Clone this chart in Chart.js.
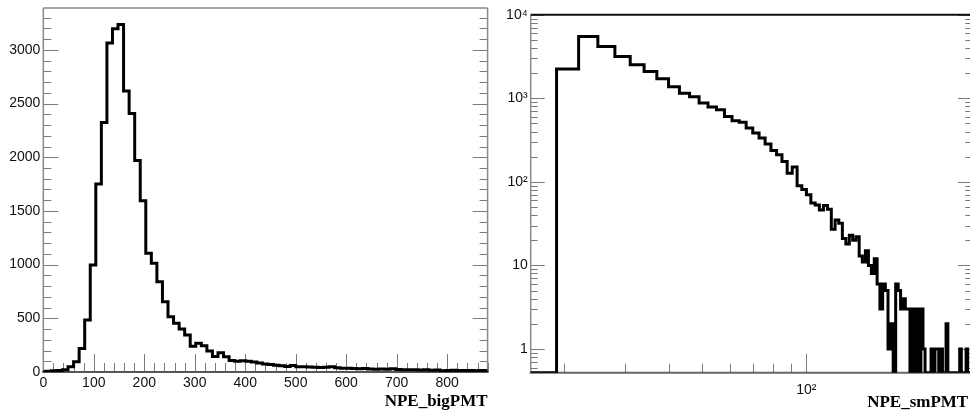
<!DOCTYPE html>
<html><head><meta charset="utf-8">
<script src="https://cdn.jsdelivr.net/npm/chart.js@4/dist/chart.umd.min.js"></script>
<style>
html,body{margin:0;padding:0;background:#fff;overflow:hidden;width:970px;height:417px;position:relative;}
.panel{position:absolute;top:-20px;}
#w1{left:0;width:490px;height:437px;}
#w2{left:490px;width:490px;height:437px;}
</style></head><body>
<div id="w1" class="panel"><canvas id="c1" width="490" height="437"></canvas></div>
<div id="w2" class="panel"><canvas id="c2" width="490" height="437"></canvas></div>
<script>
// ---------- Left panel: NPE_bigPMT (linear axes) ----------
const bigBinStart = -6;
const bigBinWidth = 11;
const bigCounts = [
  3, 8, 12, 15, 22, 50, 96, 220, 485, 997,
  1752, 2323, 3063, 3196, 3236, 2618, 2407, 1969, 1596, 1106,
  1013, 841, 655, 515, 453, 400, 345, 240, 267, 245,
  195, 145, 180, 143, 106, 100, 104, 100, 92, 84,
  74, 70, 64, 58, 52, 60, 50, 48, 46, 45,
  42, 44, 48, 40, 36, 34, 32, 30, 33, 28,
  26, 27, 25, 30, 24, 22, 20, 22, 18, 20,
  16, 18, 12, 15, 17, 14, 13, 15, 12, 14, 12
];
const bigXRange = [0, 880];
const bigYRange = [0, 3390];
const bigXTickValues = [0, 100, 200, 300, 400, 500, 600, 700, 800];
const bigXTickLabels = ["0", "100", "200", "300", "400", "500", "600", "700", "800"];
const bigYTickValues = [0, 500, 1000, 1500, 2000, 2500, 3000];
const bigYTickLabels = ["0", "500", "1000", "1500", "2000", "2500", "3000"];
const bigTitle = "NPE_bigPMT";

// ---------- Right panel: NPE_smPMT (log axes) ----------
const smBinStart = 16;
const smBinWidth = 3;
const smCounts = [
  0, 2240, 5500, 4170, 3170, 2520, 2090, 1710, 1370, 1150,
  1040, 875, 785, 728, 605, 540, 518, 440, 383, 334,
  283, 237, 211, 175, 127, 150, 90, 81, 70, 56,
  53, 46, 52, 47, 27, 35, 32, 21, 18, 23,
  20, 22, 13, 11, 15, 10, 8, 12, 6, 3,
  6, 5, 1, 2, 0, 6, 5, 3, 4, 3,
  3, 0, 3, 0, 3, 0, 3, 1, 0, 0,
  0, 1, 0, 1, 1, 0, 1, 0, 0, 2,
  0, 0, 0, 0, 0, 0, 0, 1, 0, 0,
  0, 1, 0, 0, 0
];
const smXRange = [16, 301];
const smYRange = [0.52, 10000];
const smXTickValues = [100];
const smXTickLabels = ["10\u00B2"];
const smYTickValues = [1, 10, 100, 1000, 10000];
const smYTickLabels = ["1", "10", "10\u00B2", "10\u00B3", "10\u2074"];
const smTitle = "NPE_smPMT";

// ---------- helpers ----------
function histPoints(start, width, counts, floor) {
  const pts = counts.map((c, i) => ({x: start + i * width, y: (floor !== undefined && c <= 0) ? floor : c}));
  pts.push({x: start + counts.length * width, y: pts[pts.length - 1].y});
  return pts;
}

function tickList(scale, spec) {
  const out = [];
  if (spec.type === 'log') {
    const d0 = Math.floor(Math.log10(scale.min)), d1 = Math.ceil(Math.log10(scale.max));
    for (let d = d0; d <= d1; d++) {
      for (let j = 1; j <= 9; j++) {
        const v = j * Math.pow(10, d);
        if (v < scale.min * 0.9999 || v > scale.max * 1.0001) continue;
        out.push({v, len: j === 1 ? spec.majorLen : spec.minorLen});
      }
    }
  } else {
    const n = Math.round((scale.max - scale.min) / spec.minor);
    for (let i = 0; i <= n; i++) {
      const v = scale.min + i * spec.minor;
      if (v > scale.max + 1e-9) break;
      const isMajor = Math.abs(v / spec.major - Math.round(v / spec.major)) < 1e-6;
      out.push({v, len: isMajor ? spec.majorLen : spec.minorLen});
    }
  }
  return out;
}

const rootFrame = {
  id: 'rootFrame',
  beforeDatasetsDraw(chart, args, o) {
    const {ctx, chartArea: a, scales: {x, y}} = chart;
    ctx.save();
    ctx.lineCap = 'butt';
    ctx.strokeStyle = o.tickColor;
    ctx.lineWidth = 1;
    ctx.beginPath();
    for (const t of tickList(x, o.xTicks)) {
      const px = Math.round(x.getPixelForValue(t.v)) + 0.5;
      if (px < a.left - 1 || px > a.right + 1) continue;
      ctx.moveTo(px, a.bottom); ctx.lineTo(px, a.bottom - t.len);
    }
    for (const t of tickList(y, o.yTicks)) {
      const py = Math.round(y.getPixelForValue(t.v)) + 0.5;
      if (py < a.top - 1 || py > a.bottom + 1) continue;
      ctx.moveTo(a.left, py); ctx.lineTo(a.left + t.len, py);
      ctx.moveTo(a.right, py); ctx.lineTo(a.right - t.len, py);
    }
    ctx.stroke();
    ctx.lineWidth = o.frameWidth;
    ctx.strokeStyle = o.frameColor;
    ctx.beginPath();
    ctx.moveTo(a.left, a.top); ctx.lineTo(a.left, a.bottom);
    ctx.moveTo(a.right, a.top); ctx.lineTo(a.right, a.bottom);
    ctx.stroke();
    ctx.strokeStyle = o.topColor; ctx.lineWidth = o.topWidth;
    ctx.beginPath(); ctx.moveTo(a.left, a.top); ctx.lineTo(a.right, a.top); ctx.stroke();
    ctx.strokeStyle = o.bottomColor; ctx.lineWidth = o.bottomWidth;
    ctx.beginPath(); ctx.moveTo(a.left - 1, a.bottom); ctx.lineTo(a.right + 1, a.bottom); ctx.stroke();
    ctx.restore();
  },
  afterDraw(chart, args, o) {
    // x-axis title, right-aligned to the frame (ROOT style)
    const {ctx, chartArea: a} = chart;
    ctx.save();
    ctx.font = "bold 17px 'Liberation Serif', 'Times New Roman', serif";
    ctx.fillStyle = '#000';
    ctx.textAlign = 'right';
    ctx.textBaseline = 'middle';
    ctx.fillText(o.title, a.right - o.titleInset, a.bottom + 30);
    ctx.restore();
  }
};

const tickFont = {family: "'Liberation Sans', Arial, 'DejaVu Sans', sans-serif", size: 14};

function makeChart(canvas, cfg) {
  const isLog = cfg.log;
  return new Chart(canvas, {
    type: 'line',
    data: {
      datasets: [{
        data: histPoints(cfg.binStart, cfg.binWidth, cfg.counts, isLog ? cfg.yRange[0] : undefined),
        borderColor: '#000',
        borderWidth: 3,
        stepped: true,
        pointRadius: 0,
        fill: false,
        tension: 0,
        borderJoinStyle: 'miter',
        borderCapStyle: 'butt'
      }]
    },
    options: {
      responsive: false,
      animation: false,
      events: [],
      layout: {padding: cfg.padding},
      plugins: {
        legend: {display: false},
        tooltip: {enabled: false},
        rootFrame: cfg.frame
      },
      scales: {
        x: {
          type: isLog ? 'logarithmic' : 'linear',
          min: cfg.xRange[0], max: cfg.xRange[1],
          grid: {display: false, drawTicks: false},
          border: {display: false},
          ticks: {
            font: tickFont, color: '#111', padding: cfg.xLabelPad,
            maxRotation: 0, autoSkip: false,
            callback: (v, i) => cfg.xTickLabels[i]
          },
          afterBuildTicks: s => { s.ticks = cfg.xTickValues.map(v => ({value: v})); },
          afterFit: s => { s.height = cfg.xAxisHeight; }
        },
        y: {
          type: isLog ? 'logarithmic' : 'linear',
          min: cfg.yRange[0], max: cfg.yRange[1],
          grid: {display: false, drawTicks: false},
          border: {display: false},
          ticks: {
            font: tickFont, color: '#111', padding: 3,
            autoSkip: false,
            callback: (v, i) => cfg.yTickLabels[i]
          },
          afterBuildTicks: s => { s.ticks = cfg.yTickValues.map(v => ({value: v})); },
          afterFit: s => { s.width = cfg.yAxisWidth; }
        }
      }
    },
    plugins: [rootFrame]
  });
}

makeChart(document.getElementById('c1'), {
  log: false,
  binStart: bigBinStart, binWidth: bigBinWidth, counts: bigCounts,
  xRange: bigXRange, yRange: bigYRange,
  xTickValues: bigXTickValues, xTickLabels: bigXTickLabels,
  yTickValues: bigYTickValues, yTickLabels: bigYTickLabels,
  padding: {top: 28, right: 2.4, left: 0, bottom: 0},
  xAxisHeight: 45, yAxisWidth: 43.3, xLabelPad: 3,
  frame: {
    title: bigTitle, titleInset: 0,
    tickColor: '#7a7a7a', frameColor: '#8a8a8a', frameWidth: 1.5,
    topColor: '#8a8a8a', topWidth: 1.5, bottomColor: '#555', bottomWidth: 2,
    xTicks: {type: 'linear', major: 100, minor: 20, majorLen: 18, minorLen: 9},
    yTicks: {type: 'linear', major: 500, minor: 100, majorLen: 15, minorLen: 8}
  }
});

makeChart(document.getElementById('c2'), {
  log: true,
  binStart: smBinStart, binWidth: smBinWidth, counts: smCounts,
  xRange: smXRange, yRange: smYRange,
  xTickValues: smXTickValues, xTickLabels: smXTickLabels,
  yTickValues: smYTickValues, yTickLabels: smYTickLabels,
  padding: {top: 34.7, right: 7.8, left: 0, bottom: 0},
  xAxisHeight: 44.3, yAxisWidth: 40.7, xLabelPad: 9,
  frame: {
    title: smTitle, titleInset: 4,
    tickColor: '#7a7a7a', frameColor: '#8a8a8a', frameWidth: 1.5,
    topColor: '#111', topWidth: 2, bottomColor: '#666', bottomWidth: 2,
    xTicks: {type: 'log', majorLen: 19, minorLen: 9},
    yTicks: {type: 'log', majorLen: 14, minorLen: 7}
  }
});
</script>
</body></html>
